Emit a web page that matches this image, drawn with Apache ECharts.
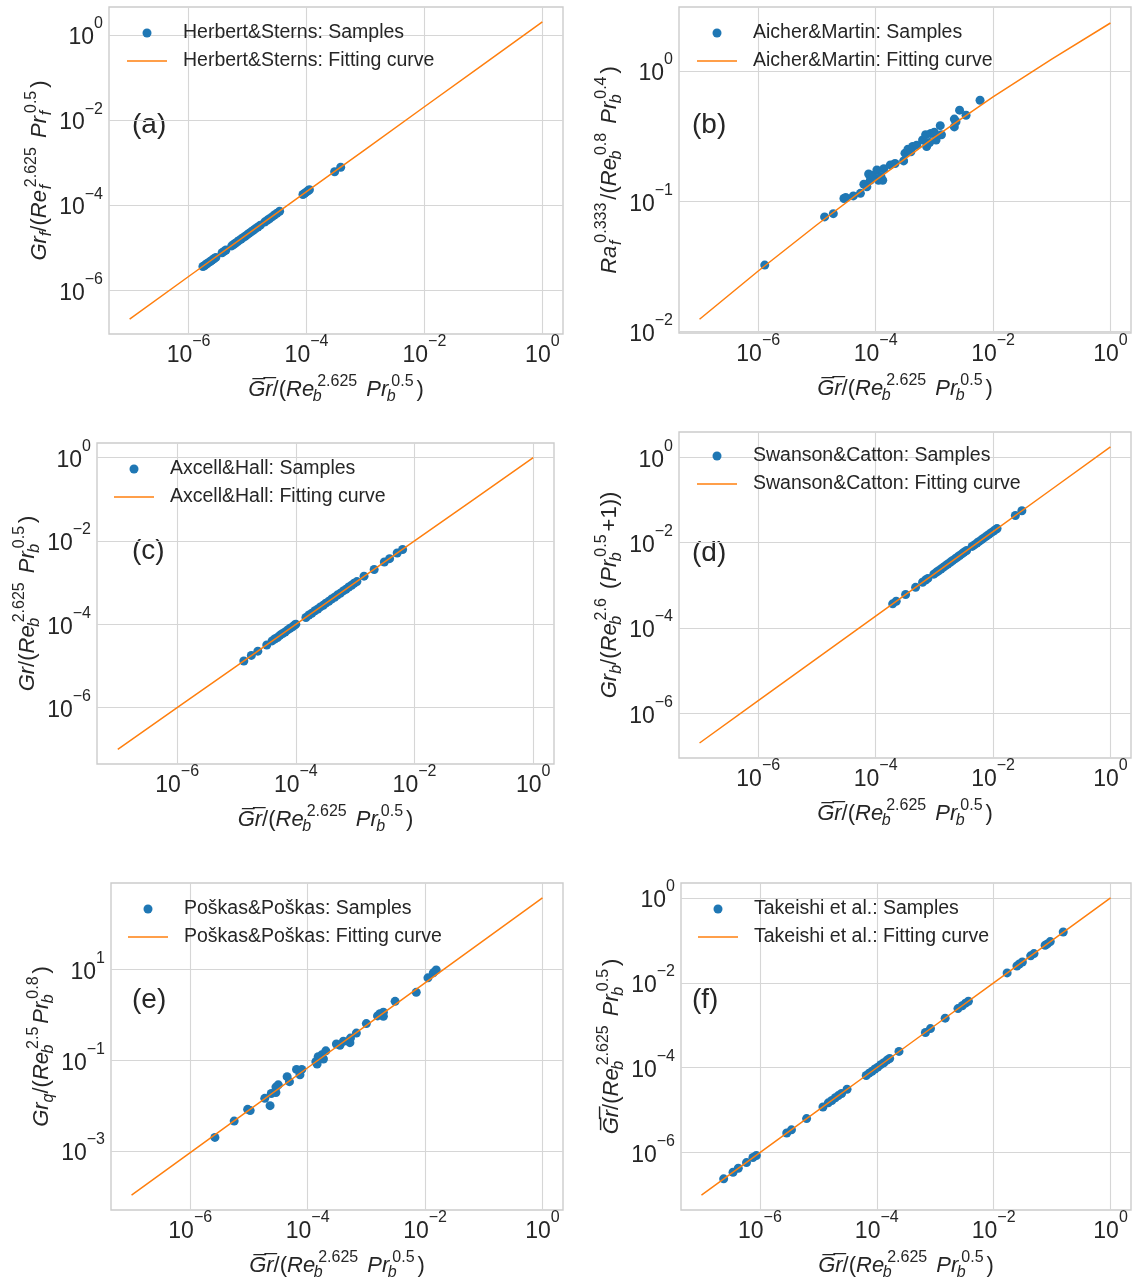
<!DOCTYPE html>
<html><head><meta charset="utf-8">
<script src="https://cdn.jsdelivr.net/npm/echarts@6/dist/echarts.min.js"></script>
<style>html,body{margin:0;padding:0;background:#fff}#c{width:1136px;height:1284px}</style>
</head><body><div id="c"></div>
<script>
// ---------- data ----------
const xTicks = [1e-6, 1e-4, 1e-2, 1];
const yTicksStd = [1e-6, 1e-4, 1e-2, 1];
const yTicksB = [1e-2, 1e-1, 1];
const yTicksE = [1e-3, 1e-1, 10];
const panelLetters = ['(a)', '(b)', '(c)', '(d)', '(e)', '(f)'];
const sourceNames = ['Herbert&Sterns', 'Aicher&Martin', 'Axcell&Hall', 'Swanson&Catton', 'Po\u0161kas&Po\u0161kas', 'Takeishi et al.'];
const fitX = [1e-7, 1e-6, 1e-5, 1e-4, 1e-3, 1e-2, 1e-1, 1];

const aSampleX = [1.75e-6, 1.85e-6, 1.95e-6, 2.05e-6, 2.2e-6, 2.35e-6, 2.5e-6, 2.7e-6, 2.9e-6, 3.7e-6, 4.0e-6, 4.3e-6, 5.4e-6, 5.8e-6, 6.2e-6, 6.7e-6, 7.2e-6, 7.8e-6, 8.4e-6, 9.1e-6, 9.8e-6, 1.06e-5, 1.15e-5, 1.25e-5, 1.35e-5, 1.5e-5, 1.65e-5, 1.95e-5, 2.15e-5, 2.35e-5, 2.6e-5, 2.85e-5, 3.15e-5, 3.5e-5, 8.7e-5, 9.3e-5, 1.0e-4, 1.06e-4, 1.12e-4, 3.0e-4, 3.8e-4];
const aSampleY = [3.6e-6, 3.75e-6, 4.0e-6, 4.2e-6, 4.5e-6, 4.8e-6, 5.1e-6, 5.5e-6, 5.9e-6, 7.6e-6, 8.2e-6, 8.8e-6, 1.1e-5, 1.19e-5, 1.27e-5, 1.37e-5, 1.48e-5, 1.6e-5, 1.72e-5, 1.86e-5, 2.0e-5, 2.17e-5, 2.36e-5, 2.56e-5, 2.77e-5, 3.07e-5, 3.38e-5, 4.0e-5, 4.4e-5, 4.8e-5, 5.3e-5, 5.85e-5, 6.45e-5, 7.2e-5, 1.78e-4, 1.9e-4, 2.05e-4, 2.17e-4, 2.3e-4, 6.1e-4, 7.8e-4];
const aFitY = [2.1e-7, 2.1e-6, 2.08e-5, 2.07e-4, 2.06e-3, 2.06e-2, 0.205, 2.05];

const bSampleX = [1.29e-6, 1.35e-5, 1.9e-5, 2.88e-5, 3.09e-5, 4.17e-5, 5.5e-5, 6.3e-5, 7.08e-5, 7.6e-5, 8.1e-5, 8.9e-5, 1.05e-4, 1.12e-4, 1.23e-4, 1.32e-4, 1.38e-4, 1.78e-4, 2.14e-4, 3.0e-4, 3.16e-4, 3.55e-4, 3.98e-4, 4.27e-4, 5.0e-4, 6.3e-4, 7.1e-4, 7.4e-4, 8.3e-4, 8.7e-4, 1.0e-3, 1.07e-3, 1.26e-3, 1.32e-3, 2.19e-3, 2.19e-3, 2.34e-3, 2.69e-3, 3.47e-3, 6.0e-3];
const bSampleY = [0.0324, 0.0759, 0.0804, 0.105, 0.107, 0.110, 0.115, 0.135, 0.129, 0.162, 0.145, 0.158, 0.174, 0.145, 0.155, 0.145, 0.178, 0.19, 0.195, 0.204, 0.234, 0.251, 0.24, 0.263, 0.269, 0.295, 0.324, 0.263, 0.282, 0.331, 0.339, 0.295, 0.38, 0.324, 0.427, 0.372, 0.407, 0.50, 0.457, 0.596];
const bFitY = [0.01245, 0.0292, 0.0661, 0.1445, 0.309, 0.631, 1.23, 2.33];

const cSampleX = [1.33e-5, 1.78e-5, 2.29e-5, 3.24e-5, 3.98e-5, 4.4e-5, 4.9e-5, 5.4e-5, 6.0e-5, 6.6e-5, 7.3e-5, 8.0e-5, 8.8e-5, 9.5e-5, 1.0e-4, 1.48e-4, 1.66e-4, 1.86e-4, 2.1e-4, 2.35e-4, 2.6e-4, 2.9e-4, 3.2e-4, 3.6e-4, 4.0e-4, 4.5e-4, 5.0e-4, 5.6e-4, 6.3e-4, 7.0e-4, 7.8e-4, 8.7e-4, 9.6e-4, 1.07e-3, 1.41e-3, 2.09e-3, 3.1e-3, 3.8e-3, 5.1e-3, 6.3e-3];
const cSampleY = [1.32e-5, 1.8e-5, 2.27e-5, 3.2e-5, 4.0e-5, 4.45e-5, 4.85e-5, 5.45e-5, 6.05e-5, 6.55e-5, 7.35e-5, 8.05e-5, 8.7e-5, 9.6e-5, 1.01e-4, 1.46e-4, 1.68e-4, 1.85e-4, 2.12e-4, 2.33e-4, 2.62e-4, 2.88e-4, 3.22e-4, 3.58e-4, 4.03e-4, 4.47e-4, 5.04e-4, 5.55e-4, 6.35e-4, 6.95e-4, 7.85e-4, 8.65e-4, 9.7e-4, 1.06e-3, 1.43e-3, 2.07e-3, 3.13e-3, 3.76e-3, 5.15e-3, 6.25e-3];
const cFitY = [1e-7, 1e-6, 1e-5, 1e-4, 1e-3, 1e-2, 1e-1, 1];

const dSampleX = [1.95e-4, 2.24e-4, 3.24e-4, 4.79e-4, 6.3e-4, 7.08e-4, 7.76e-4, 9.8e-4, 1.08e-3, 1.18e-3, 1.3e-3, 1.42e-3, 1.56e-3, 1.7e-3, 1.87e-3, 2.05e-3, 2.25e-3, 2.45e-3, 2.7e-3, 2.95e-3, 3.2e-3, 3.55e-3, 4.4e-3, 4.8e-3, 5.3e-3, 5.8e-3, 6.4e-3, 7.0e-3, 7.7e-3, 8.5e-3, 9.3e-3, 1.02e-2, 1.12e-2, 1.17e-2, 2.4e-2, 3.1e-2];
const dSampleY = [3.66e-4, 4.2e-4, 6.05e-4, 8.9e-4, 1.17e-3, 1.32e-3, 1.44e-3, 1.81e-3, 2.0e-3, 2.18e-3, 2.4e-3, 2.62e-3, 2.88e-3, 3.14e-3, 3.45e-3, 3.78e-3, 4.15e-3, 4.5e-3, 4.97e-3, 5.43e-3, 5.9e-3, 6.5e-3, 8.1e-3, 8.8e-3, 9.7e-3, 1.06e-2, 1.17e-2, 1.28e-2, 1.41e-2, 1.55e-2, 1.7e-2, 1.85e-2, 2.03e-2, 2.12e-2, 4.3e-2, 5.55e-2];
const dFitY = [2.0e-7, 1.97e-6, 1.93e-5, 1.89e-4, 1.85e-3, 1.81e-2, 0.177, 1.74];

const eSampleX = [2.63e-6, 5.6e-6, 9.5e-6, 1.05e-5, 1.86e-5, 2.29e-5, 2.4e-5, 2.88e-5, 2.88e-5, 3.16e-5, 4.47e-5, 4.9e-5, 6.46e-5, 7.4e-5, 7.94e-5, 1.38e-4, 1.45e-4, 1.51e-4, 1.74e-4, 1.86e-4, 2.04e-4, 3.09e-4, 3.55e-4, 4.07e-4, 5.25e-4, 5.37e-4, 6.76e-4, 1.0e-3, 1.55e-3, 1.7e-3, 1.95e-3, 1.95e-3, 3.09e-3, 7.08e-3, 1.12e-2, 1.38e-2, 1.55e-2];
const eSampleY = [2.0e-3, 4.57e-3, 8.3e-3, 7.8e-3, 1.45e-2, 1.0e-2, 1.86e-2, 1.95e-2, 2.57e-2, 2.88e-2, 4.37e-2, 3.39e-2, 6.3e-2, 4.79e-2, 6.3e-2, 9.3e-2, 8.3e-2, 0.12, 0.132, 0.107, 0.162, 0.229, 0.214, 0.263, 0.245, 0.309, 0.398, 0.646, 0.955, 1.07, 0.933, 1.15, 2.0, 3.16, 6.6, 8.5, 9.8];
const eFitY = [1.07e-4, 9.2e-4, 7.94e-3, 6.86e-2, 0.592, 5.1, 44.1, 380];

const fSampleX = [2.4e-7, 3.47e-7, 4.27e-7, 5.9e-7, 7.6e-7, 8.7e-7, 2.88e-6, 3.47e-6, 6.3e-6, 1.2e-5, 1.48e-5, 1.7e-5, 1.95e-5, 2.2e-5, 2.5e-5, 3.1e-5, 6.6e-5, 7.4e-5, 8.3e-5, 9.3e-5, 1.04e-4, 1.17e-4, 1.32e-4, 1.5e-4, 1.66e-4, 2.4e-4, 6.8e-4, 8.3e-4, 1.48e-3, 2.45e-3, 2.9e-3, 3.3e-3, 3.7e-3, 1.7e-2, 2.5e-2, 2.75e-2, 3.1e-2, 4.3e-2, 4.9e-2, 7.6e-2, 8.3e-2, 9.3e-2, 0.155];
const fSampleY = [2.42e-7, 3.45e-7, 4.3e-7, 5.85e-7, 7.7e-7, 8.6e-7, 2.9e-6, 3.45e-6, 6.35e-6, 1.19e-5, 1.49e-5, 1.69e-5, 1.96e-5, 2.21e-5, 2.48e-5, 3.12e-5, 6.55e-5, 7.45e-5, 8.25e-5, 9.35e-5, 1.03e-4, 1.18e-4, 1.31e-4, 1.51e-4, 1.65e-4, 2.42e-4, 6.75e-4, 8.35e-4, 1.47e-3, 2.47e-3, 2.88e-3, 3.32e-3, 3.68e-3, 1.71e-2, 2.48e-2, 2.77e-2, 3.08e-2, 4.32e-2, 4.87e-2, 7.65e-2, 8.25e-2, 9.35e-2, 0.157];
const fFitY = [1e-7, 1e-6, 1e-5, 1e-4, 1e-3, 1e-2, 1e-1, 1];

// axis titles (rich text tokens)
const xTitle = '{i|G\u0305r\u0305}{r|/(}{i|Re}{g| }{sb|b}{sp|2.625}{g| }{r| }{i|Pr}{g| }{sb|b}{sp|0.5}{g| }{r|)}';
const yTitles = [
  '{i|Gr}{sbw|f}{r|/(}{i|Re}{g| }{sb|f}{sp|2.625}{g| }{r| }{i|Pr}{g| }{sb|f}{sp|0.5}{g| }{r|)}',
  '{i|Ra}{g| }{sb|f}{sp|0.333}{g| }{r|/(}{i|Re}{g| }{sb|b}{sp|0.8}{g| }{r| }{i|Pr}{g| }{sb|b}{sp|0.4}{g| }{r|)}',
  '{i|Gr}{r|/(}{i|Re}{g| }{sb|b}{sp|2.625}{g| }{r| }{i|Pr}{g| }{sb|b}{sp|0.5}{g| }{r|)}',
  '{i|Gr}{sbw|b}{r|/(}{i|Re}{g| }{sb|b}{sp|2.6}{g| }{r| (}{i|Pr}{g| }{sb|b}{sp|0.5}{g| }{r|+1))}',
  '{i|Gr}{sbw|q}{r|/(}{i|Re}{g| }{sb|b}{sp|2.5}{g| }{i|Pr}{g| }{sb|b}{sp|0.8}{g| }{r|)}',
  '{i|G\u0305r\u0305}{r|/(}{i|Re}{g| }{sb|b}{sp|2.625}{g| }{r| }{i|Pr}{g| }{sb|b}{sp|0.5}{g| }{r|)}'
];

// ---------- layout / style ----------
const F = "'Liberation Sans', Arial, sans-serif";
const C = '#262626';
const grids = [
  {left: 109, top: 7, width: 454, height: 327},
  {left: 679, top: 7, width: 452, height: 326},
  {left: 97, top: 443, width: 457, height: 321},
  {left: 679, top: 432, width: 452, height: 326},
  {left: 111, top: 883, width: 452, height: 327},
  {left: 681, top: 883, width: 450, height: 327}
];
const xRange = [4.467e-8, 2.239];
const yRanges = [[9.33e-8, 4.57], [9.77e-3, 3.09], [4.467e-8, 2.239], [8.91e-8, 3.89], [5.01e-5, 813], [4.467e-8, 2.239]];
const yTickSets = [yTicksStd, yTicksB, yTicksStd, yTicksStd, yTicksE, yTicksStd];
const legendPos = [[127, 23], [697, 23], [114, 459], [697, 446], [128, 899], [698, 899]];
const letterPos = [[132, 125], [692, 125], [132, 551], [692, 553], [132, 1000], [692, 1000]];
const samplesX = [aSampleX, bSampleX, cSampleX, dSampleX, eSampleX, fSampleX];
const samplesY = [aSampleY, bSampleY, cSampleY, dSampleY, eSampleY, fSampleY];
const fitsY = [aFitY, bFitY, cFitY, dFitY, eFitY, fFitY];

function expLabel(v) {
  const e = Math.round(Math.log10(v));
  return '{b|10}{s|' + (e < 0 ? '\u2212' + (-e) : String(e)) + '}';
}
const tickRich = {
  b: {fontFamily: F, fontSize: 23, lineHeight: 44, color: C},
  s: {fontFamily: F, fontSize: 16, lineHeight: 16, verticalAlign: 'top', color: C}
};
const titleRich = {
  i: {fontFamily: F, fontSize: 22, fontStyle: 'italic', color: C},
  r: {fontFamily: F, fontSize: 22, color: C},
  g: {fontFamily: F, fontSize: 22, width: 3, color: C},
  sp: {fontFamily: F, fontSize: 16, verticalAlign: 'top', color: C},
  sb: {fontFamily: F, fontSize: 16, fontStyle: 'italic', verticalAlign: 'bottom', width: 0, color: C},
  sbw: {fontFamily: F, fontSize: 16, fontStyle: 'italic', verticalAlign: 'bottom', color: C}
};
const gridLine = {show: true, lineStyle: {color: '#d6d6d6', width: 1.1}};
const lineIcon = 'path://M0,0L40,0L40,1.5L0,1.5Z';

const option = {
  animation: false,
  backgroundColor: '#ffffff',
  grid: [], xAxis: [], yAxis: [], series: [], legend: [], graphic: []
};

for (let i = 0; i < 6; i++) {
  const g = grids[i];
  option.grid.push({left: g.left, top: g.top, width: g.width, height: g.height, show: true,
    borderColor: '#cccccc', borderWidth: 1.4, backgroundColor: 'transparent', outerBoundsMode: 'none'});
  option.xAxis.push({
    type: 'log', logBase: 10, gridIndex: i, min: xRange[0], max: xRange[1],
    axisLine: {show: false}, axisTick: {show: false, customValues: xTicks},
    axisLabel: {customValues: xTicks, formatter: expLabel, rich: tickRich, margin: 0},
    splitLine: gridLine,
    name: xTitle, nameLocation: 'middle', nameGap: 40,
    nameTextStyle: {rich: titleRich, lineHeight: 31}
  });
  option.yAxis.push({
    type: 'log', logBase: 10, gridIndex: i, min: yRanges[i][0], max: yRanges[i][1],
    axisLine: {show: false}, axisTick: {show: false, customValues: yTickSets[i]},
    axisLabel: {customValues: yTickSets[i], formatter: expLabel, rich: tickRich, margin: 6, padding: [6, 0, 0, 0]},
    splitLine: gridLine,
    name: yTitles[i], nameLocation: 'middle', nameRotate: 90, nameGap: 54,
    nameTextStyle: {rich: titleRich, lineHeight: 31}
  });
  const sName = sourceNames[i] + ': Samples';
  const lName = sourceNames[i] + ': Fitting curve';
  option.series.push({
    type: 'scatter', name: sName, xAxisIndex: i, yAxisIndex: i,
    data: samplesX[i].map((x, k) => [x, samplesY[i][k]]),
    symbol: 'circle', symbolSize: 9, itemStyle: {color: '#1f77b4', opacity: 1}
  });
  option.series.push({
    type: 'line', name: lName, xAxisIndex: i, yAxisIndex: i,
    data: fitX.map((x, k) => [x, fitsY[i][k]]),
    symbol: 'none', showSymbol: false, lineStyle: {color: '#ff7f0e', width: 1.5}, itemStyle: {color: '#ff7f0e'}
  });
  option.legend.push({
    orient: 'vertical', left: legendPos[i][0], top: legendPos[i][1], padding: 0,
    itemWidth: 40, itemHeight: 9, itemGap: 8,
    data: [{name: sName, icon: 'circle', itemStyle: {color: '#1f77b4', opacity: 1}},
           {name: lName, icon: lineIcon, itemStyle: {color: '#ff7f0e', opacity: 1}}],
    textStyle: {fontFamily: F, fontSize: 19.5, color: C, lineHeight: 20, padding: [0, 0, 0, 11]}
  });
  option.graphic.push({
    type: 'text', x: letterPos[i][0], y: letterPos[i][1],
    style: {text: panelLetters[i], fontFamily: F, fontSize: 28, fill: C, verticalAlign: 'middle'}
  });
}

const chart = echarts.init(document.getElementById('c'), null, {renderer: 'canvas'});
chart.setOption(option);
</script></body></html>
